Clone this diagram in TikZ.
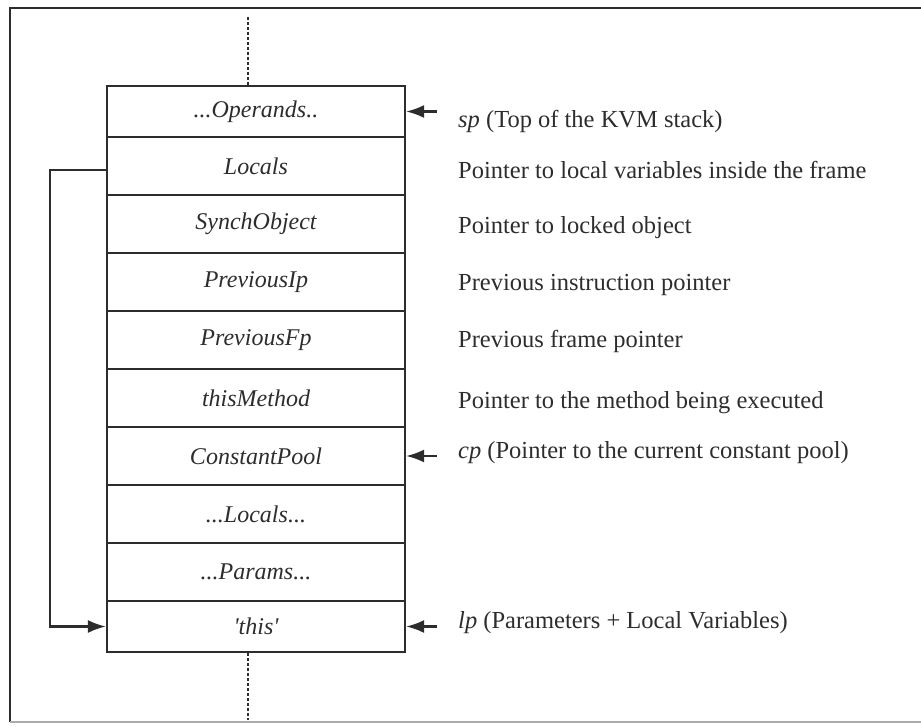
\documentclass[tikz,border=0pt]{standalone}
\usepackage{fontspec}
\setmainfont{Liberation Serif}
\usetikzlibrary{arrows.meta}
\definecolor{ink}{RGB}{45,45,45}
\begin{document}
\begin{tikzpicture}[x=1pt,y=-1pt,
 cell/.style={draw=ink, line width=2.2pt, minimum width=298pt, inner sep=0pt,
   text=ink, font=\fontsize{24}{28}\selectfont\itshape},
 lbl/.style={anchor=base west, inner sep=0pt, text=ink, font=\fontsize{24.5}{28}\selectfont},
 ptr/.style={draw=ink, line width=2.2pt, -{Latex[length=18pt,width=13pt]}},
 dots/.style={draw=ink, line width=1.8pt, dash pattern=on 3pt off 2pt},
 frame/.style={draw=ink, line width=1.8pt}]
\useasboundingbox (0,0) rectangle (921,727);
% outer frame
\coordinate (f1) at (921,8);
\coordinate (f2) at (10,8);
\coordinate (f3) at (10,722);
\coordinate (f4) at (921,722);
\draw[frame] (f1) -- (f2) -- (f3);
\draw[frame, draw=ink!40] (f3) -- (f4);
% stack cells
\node[cell, minimum height=51pt] (op) at (256,111.5) {...Operands..};
\node[cell, minimum height=58pt] (loc) at (256,166) {Locals};
\node[cell, minimum height=58pt] (syn) at (256,224) {SynchObject};
\node[cell, minimum height=58pt] (pip) at (256,282) {PreviousIp};
\node[cell, minimum height=58pt] (pfp) at (256,340) {PreviousFp};
\node[cell, minimum height=58pt] (tm) at (256,398) {thisMethod};
\node[cell, minimum height=58pt] (cpool) at (256,456) {ConstantPool};
\node[cell, minimum height=58pt] (locs) at (256,514) {...Locals...};
\node[cell, minimum height=58pt] (par) at (256,572) {...Params...};
\node[cell, minimum height=51pt] (thisc) at (256,626.5) {\textquotesingle this\textquotesingle};
% dashed continuation
\coordinate (dtop) at (248,17);
\coordinate (dbot) at (248,720);
\draw[dots] (dtop) -- (dtop |- op.north);
\draw[dots] (dbot |- thisc.south) -- (dbot);
% labels
\node[lbl] (lsp) at (458,128) {\textit{sp} (Top of the KVM stack)};
\node[lbl] (lloc) at (458,179) {Pointer to local variables inside the frame};
\node[lbl] (lsyn) at (458,234) {Pointer to locked object};
\node[lbl] (lpip) at (458,291) {Previous instruction pointer};
\node[lbl] (lpfp) at (458,347) {Previous frame pointer};
\node[lbl] (ltm) at (458,408) {Pointer to the method being executed};
\node[lbl] (lcp) at (458,458) {\textit{cp} (Pointer to the current constant pool)};
\node[lbl] (llp) at (458,628) {\textit{lp} (Parameters + Local Variables)};
% pointer arrows
\coordinate (tsp) at ([xshift=31pt]op.east);
\coordinate (tcp) at ([xshift=31pt]cpool.east);
\coordinate (tlp) at ([xshift=31pt]thisc.east);
\draw[ptr] (tsp) -- (op.east);
\draw[ptr] (tcp) -- (cpool.east);
\draw[ptr] (tlp) -- (thisc.east);
% locals loop
\coordinate (loopx) at (50,0);
\draw[ptr] ([yshift=-4pt]loc.west) -| (loopx |- thisc.west) -- (thisc.west);
\end{tikzpicture}
\end{document}
